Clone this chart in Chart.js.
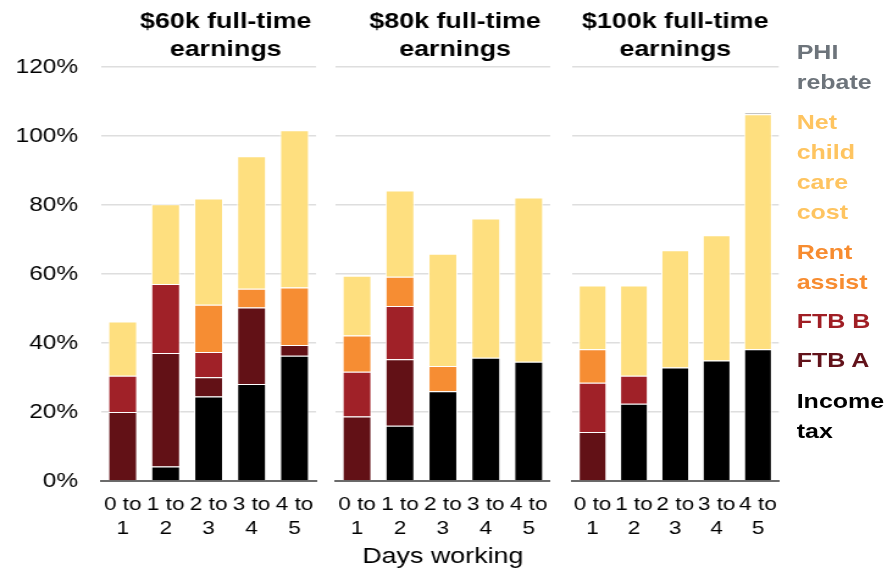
<!DOCTYPE html>
<html><head><meta charset="utf-8">
<script src="https://cdn.jsdelivr.net/npm/chart.js@4"></script>
<style>
html,body{margin:0;padding:0;background:#fff;overflow:hidden;width:888px;height:572px}
#wrap{position:absolute;left:0;top:0;width:728px;height:572px;transform:scaleX(1.22);transform-origin:0 0;font-family:"Liberation Sans",Arial,sans-serif}
.panel{position:absolute;top:0;height:572px}
.leg{position:absolute;left:653px;width:76px;font-weight:bold;font-size:20.5px;line-height:30px}
</style></head>
<body>
<div id="wrap">
  <div class="panel" style="left:0;width:262px"><canvas id="c0"></canvas></div>
  <div class="panel" style="left:273px;width:180px"><canvas id="c1"></canvas></div>
  <div class="panel" style="left:466px;width:175px"><canvas id="c2"></canvas></div>
</div>
<script>
// ---- data ----
const categories = [["0 to","1"],["1 to","2"],["2 to","3"],["3 to","4"],["4 to","5"]];
const panelTitles = [["$60k full-time","earnings"],["$80k full-time","earnings"],["$100k full-time","earnings"]];
const seriesNames = ["Income tax","FTB A","FTB B","Rent assist","Net child care cost","PHI rebate"];
const xAxisTitle = "Days working";
const yTickValues = [0,20,40,60,80,100,120];

const incomeTax60 = [0, 4.2, 24.5, 28.1, 36.3];
const ftbA60      = [20, 32.9, 5.6, 22.2, 3.1];
const ftbB60      = [10.5, 20, 7.3, 0, 0];
const rent60      = [0, 0, 13.7, 5.4, 16.7];
const childcare60 = [15.7, 23.1, 30.8, 38.4, 45.6];
const phi60       = [0, 0, 0, 0, 0];

const incomeTax80 = [0, 16, 26, 35.7, 34.6];
const ftbA80      = [18.7, 19.3, 0, 0, 0];
const ftbB80      = [13, 15.4, 0, 0, 0];
const rent80      = [10.5, 8.5, 7.3, 0, 0];
const childcare80 = [17.3, 25, 32.6, 40.4, 47.6];
const phi80       = [0, 0, 0, 0, 0];

const incomeTax100 = [0, 22.4, 32.9, 34.9, 38.2];
const ftbA100      = [14.2, 0, 0, 0, 0];
const ftbB100      = [14.3, 8.1, 0, 0, 0];
const rent100      = [9.7, 0, 0, 0, 0];
const childcare100 = [18.5, 26.2, 34, 36.3, 68.1];
const phi100       = [0, 0, 0, 0, 0.6];

// ---- styles ----
const barColors = ["#000000","#621116","#a02128","#f68d33","#fedf7f","#b0b0b0"];
const legendColors = ["#000000","#62121a","#a01e24","#f78c30","#fec460","#6d747b"];
const legendTops = [386,345,306,237,107,37];
const titleShift = [14, 10, 0];

const panels = [
  [incomeTax60, ftbA60, ftbB60, rent60, childcare60, phi60],
  [incomeTax80, ftbA80, ftbB80, rent80, childcare80, phi80],
  [incomeTax100, ftbA100, ftbB100, rent100, childcare100, phi100]
];

const FONT = '"Liberation Sans", Arial, sans-serif';

function makePanel(idx){
  const first = idx === 0;
  const datasets = panels[idx].map((vals, i) => ({
    label: seriesNames[i],
    data: vals.map(v => v === 0 ? null : v),
    backgroundColor: barColors[i],
    borderColor: '#ffffff',
    borderWidth: 1,
    barPercentage: 0.68,
    categoryPercentage: 1
  }));
  new Chart(document.getElementById('c' + idx), {
    type: 'bar',
    data: { labels: categories, datasets },
    plugins: [{
      id: 'titleShift',
      afterLayout(chart){
        const t = chart.titleBlock;
        if (t) { t.left += titleShift[idx]; t.right += titleShift[idx]; }
      }
    }],
    options: {
      responsive: true,
      maintainAspectRatio: false,
      animation: false,
      layout: { padding: { left: 0, right: first ? 3 : 0, top: 0, bottom: 0 } },
      plugins: {
        legend: { display: false },
        tooltip: { enabled: false },
        title: {
          display: true,
          fullSize: false,
          text: panelTitles[idx],
          color: '#000',
          font: { family: FONT, size: 22, weight: 'bold', lineHeight: 28/22 },
          padding: { top: 8, bottom: 3 }
        }
      },
      scales: {
        x: {
          stacked: true,
          grid: { display: false },
          border: { display: true, color: '#6b6b6b', width: 2 },
          ticks: { color: '#000', font: { family: FONT, size: 18.5, lineHeight: 24/18.5 }, padding: 4, maxRotation: 0, autoSkip: false },
          title: { display: idx === 1, text: xAxisTitle, color: '#000', font: { family: FONT, size: 22, lineHeight: 1.2 }, padding: { top: 0, bottom: 2 } },
          afterFit: s => { s.height = 91; }
        },
        y: {
          stacked: true,
          min: 0, max: 120,
          afterBuildTicks: s => { s.ticks = yTickValues.map(v => ({ value: v })); },
          grid: { color: '#dedede', lineWidth: 1.5, drawTicks: false },
          border: { display: false },
          ticks: { display: first, color: '#000', font: { family: FONT, size: 20 }, padding: 19, callback: v => v + '%' },
          afterFit: s => { s.width = first ? 83 : 0; }
        }
      }
    }
  });
}
[0,1,2].forEach(makePanel);

// legend (HTML text)
const wrap = document.getElementById('wrap');
seriesNames.forEach((name, i) => {
  const d = document.createElement('div');
  d.className = 'leg';
  d.style.top = legendTops[i] + 'px';
  d.style.color = legendColors[i];
  d.textContent = name;
  wrap.appendChild(d);
});
</script>
</body></html>
